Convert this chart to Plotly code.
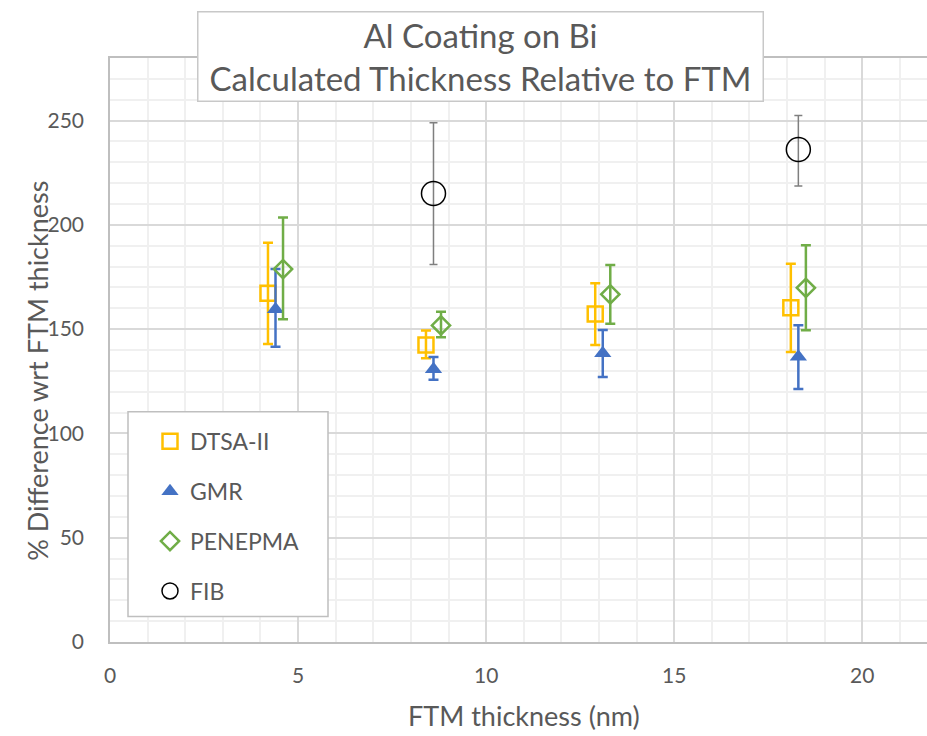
import plotly.graph_objects as go

# ---- data ----
series_names = ["DTSA-II", "GMR", "PENEPMA", "FIB"]

dtsa_x = [4.2, 8.4, 12.9, 18.1]
dtsa_y = [167.2, 142.4, 157.3, 160.3]
dtsa_hi = [191.4, 149.4, 172.0, 181.3]
dtsa_lo = [142.9, 136.0, 142.4, 139.1]

gmr_x = [4.4, 8.6, 13.1, 18.3]
gmr_y = [159.5, 130.8, 138.4, 136.8]
gmr_hi = [178.8, 136.7, 149.6, 151.9]
gmr_lo = [141.6, 125.7, 127.0, 121.3]

pen_x = [4.6, 8.8, 13.3, 18.5]
pen_y = [178.8, 151.8, 166.7, 169.8]
pen_hi = [203.5, 158.3, 180.7, 190.2]
pen_lo = [154.7, 146.1, 152.6, 149.5]

fib_x = [8.6, 18.3]
fib_y = [215.0, 236.1]
fib_hi = [249.0, 252.4]
fib_lo = [181.0, 218.6]

x_ticks = [0, 5, 10, 15, 20]
y_ticks = [0, 50, 100, 150, 200, 250]

title_lines = ["Al Coating on Bi", "Calculated Thickness Relative to FTM"]
x_title = "FTM thickness (nm)"
y_title = "% Difference wrt FTM thickness"

FONT = "Lato"
TXT = "#595959"

def err(y, hi, lo):
    return dict(type="data", symmetric=False,
                array=[h - v for h, v in zip(hi, y)],
                arrayminus=[v - l for v, l in zip(y, lo)])

fig = go.Figure()

specs = [
    (series_names[0], dtsa_x, dtsa_y, dtsa_hi, dtsa_lo, "#FFC000", "square-open", 15, 2.5, 2.5, 5),
    (series_names[1], gmr_x, gmr_y, gmr_hi, gmr_lo, "#4472C4", "triangle-up", 15, 0, 2.5, 5),
    (series_names[2], pen_x, pen_y, pen_hi, pen_lo, "#70AD47", "diamond-open", 14, 2.5, 2.5, 5),
    (series_names[3], fib_x, fib_y, fib_hi, fib_lo, "#000000", "circle-open", 24, 1.5, 1.5, 4),
]
for i, (name, x, y, hi, lo, col, sym, size, lw, ew, cw) in enumerate(specs):
    e = err(y, hi, lo)
    e.update(color=("#7f7f7f" if name == "FIB" else col), thickness=ew, width=cw)
    fig.add_trace(go.Scatter(
        x=x, y=y, mode="markers", name=name, legendgroup=name,
        marker=dict(symbol=sym, size=size, color=col,
                    line=dict(color=col, width=lw if lw else 0)),
        error_y=e,
    ))

L, T, B = 110, 57.7, 93.5
W, H = 927, 736
pw, ph = W - L, H - T - B

def px(xp):
    return (xp - L) / pw

def py(yp):
    return (H - B - yp) / ph

fig.update_layout(
    width=W, height=H,
    margin=dict(l=L, r=0, t=T, b=B, pad=0),
    paper_bgcolor="white", plot_bgcolor="white",
    font=dict(family=FONT, color=TXT, size=21),
    showlegend=True,
    legend=dict(x=px(150), y=py(420), xanchor="left", yanchor="top",
                bgcolor="rgba(0,0,0,0)", borderwidth=0,
                font=dict(size=23, color=TXT, family=FONT),
                tracegroupgap=17, traceorder="grouped", itemwidth=30),
    xaxis=dict(range=[0, (W - L) / 37.615], tickvals=x_ticks, ticktext=[str(v) for v in x_ticks],
               showgrid=True, gridcolor="#d9d9d9", gridwidth=1.5,
               minor=dict(dtick=1, tick0=0, showgrid=True, gridcolor="#f0f0f0", gridwidth=1.5),
               showline=True, linecolor="#bfbfbf", linewidth=1.5, mirror=True,
               zeroline=False, ticks="", tickfont=dict(size=21, color=TXT), ticklabelstandoff=14),
    yaxis=dict(range=[0, 280], tickvals=y_ticks, ticktext=[str(v) for v in y_ticks],
               showgrid=True, gridcolor="#d9d9d9", gridwidth=1.5,
               minor=dict(dtick=10, tick0=0, showgrid=True, gridcolor="#f0f0f0", gridwidth=1.5),
               showline=True, linecolor="#bfbfbf", linewidth=1.5,
               zeroline=False, ticks="", tickfont=dict(size=21, color=TXT), ticklabelstandoff=20),
)

# legend frame
fig.add_shape(type="rect", xref="paper", yref="paper",
              x0=px(128), x1=px(328), y0=py(617), y1=py(412),
              line=dict(color="#bfbfbf", width=1.5), fillcolor="white", layer="above")

# title box
fig.add_annotation(xref="paper", yref="paper", x=px(480), y=py(56), xanchor="center", yanchor="middle",
                   text="<br>".join(title_lines), showarrow=False,
                   font=dict(size=33, color=TXT, family=FONT),
                   bordercolor="#c8c8c8", borderwidth=1.5, bgcolor="white",
                   width=564, height=88, borderpad=0, align="center")

# axis titles
fig.add_annotation(xref="paper", yref="paper", x=px(524), y=py(716), xanchor="center", yanchor="middle",
                   text=x_title, showarrow=False, font=dict(size=27, color=TXT, family=FONT))
fig.add_annotation(xref="paper", yref="paper", x=px(38), y=py(371), xanchor="center", yanchor="middle",
                   text=y_title, showarrow=False, textangle=-90, font=dict(size=27, color=TXT, family=FONT))

fig.write_html("out.html")
